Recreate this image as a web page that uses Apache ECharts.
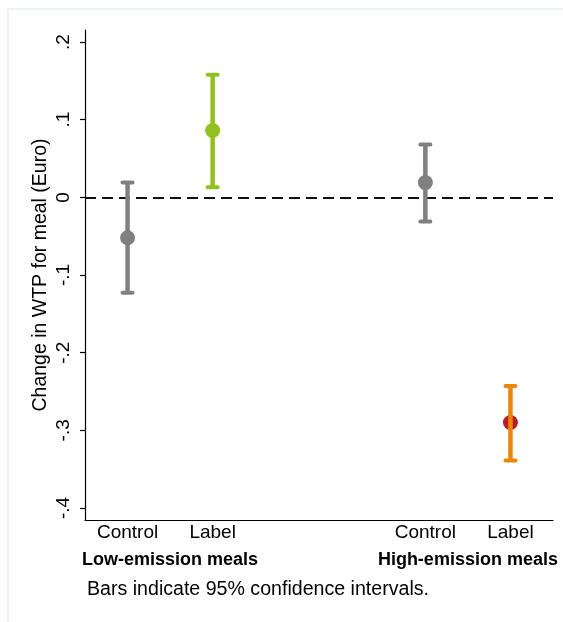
<!DOCTYPE html>
<html>
<head>
<meta charset="utf-8">
<script src="https://cdn.jsdelivr.net/npm/echarts@6/dist/echarts.min.js"></script>
<style>
  html, body { margin: 0; padding: 0; background: #fff; }
  #chart { width: 563px; height: 622px; }
</style>
</head>
<body>
<div id="chart"></div>
<script>
// x positions of the four estimates (two groups, gap between them)
const xPos = [1, 2, 4.5, 5.5];
const catLabels = ["Control", "Label", "Control", "Label"];
const groupPos = [1.5, 5];
const groupLabels = ["Low-emission meals", "High-emission meals"];

const estimate = [-0.052, 0.086, 0.019, -0.290];
const ciLow = [-0.123, 0.013, -0.031, -0.339];
const ciHigh = [0.019, 0.158, 0.068, -0.243];

const pointColors = ["#808080", "#92c01f", "#808080", "#b81d26"];
const barColors = ["#808080", "#92c01f", "#808080", "#e8870a"];

const yTicks = [-0.4, -0.3, -0.2, -0.1, 0, 0.1, 0.2];
const yTickLabels = ["-.4", "-.3", "-.2", "-.1", "0", ".1", ".2"];

const font = "'Liberation Sans', Arial, sans-serif";

const chart = echarts.init(document.getElementById("chart"));

const pointData = xPos.map((x, i) => ({
  value: [x, estimate[i]],
  itemStyle: { color: pointColors[i], opacity: 1 }
}));
const barData = xPos.map((x, i) => [x, ciLow[i], ciHigh[i], i]);

function renderBar(params, api) {
  const x = api.value(0);
  const lo = api.coord([x, api.value(1)]);
  const hi = api.coord([x, api.value(2)]);
  const color = barColors[api.value(3)];
  const half = 5;
  const style = { stroke: color, lineWidth: 4, lineCap: "round" };
  return {
    type: "group",
    children: [
      { type: "line", shape: { x1: lo[0], y1: lo[1], x2: hi[0], y2: hi[1] }, style: { stroke: color, lineWidth: 4.5 } },
      { type: "line", shape: { x1: hi[0] - half, y1: hi[1], x2: hi[0] + half, y2: hi[1] }, style },
      { type: "line", shape: { x1: lo[0] - half, y1: lo[1], x2: lo[0] + half, y2: lo[1] }, style }
    ]
  };
}

chart.setOption({
  backgroundColor: "#fff",
  animation: false,
  textStyle: { fontFamily: font },
  graphic: [
    {
      type: "rect",
      silent: true,
      z: -10,
      shape: { x: 8, y: 9, width: 700, height: 700 },
      style: { fill: "none", stroke: "#eef1f1", lineWidth: 2 }
    }
  ],
  title: {
    text: "Bars indicate 95% confidence intervals.",
    left: 87,
    top: 580,
    padding: 0,
    textStyle: { fontFamily: font, fontSize: 19.6, fontWeight: "normal", color: "#000" }
  },
  grid: { left: 85, top: 30, width: 468, height: 490 },
  xAxis: [
    {
      type: "value",
      min: 0.5,
      max: 6,
      position: "bottom",
      splitLine: { show: false },
      axisLine: { show: true, onZero: false, lineStyle: { color: "#000", width: 1.2 } },
      axisTick: { show: false },
      axisLabel: {
        customValues: xPos,
        formatter: (v) => catLabels[xPos.indexOf(v)],
        fontFamily: font,
        fontSize: 19,
        color: "#000",
        margin: 3
      }
    },
    {
      type: "value",
      min: 0.5,
      max: 6,
      position: "bottom",
      offset: 28,
      splitLine: { show: false },
      axisLine: { show: false },
      axisTick: { show: false },
      axisLabel: {
        customValues: groupPos,
        formatter: (v) => groupLabels[groupPos.indexOf(v)],
        fontFamily: font,
        fontSize: 18,
        fontWeight: "bold",
        color: "#000",
        margin: 3
      }
    }
  ],
  yAxis: {
    type: "value",
    min: -0.4155,
    max: 0.2155,
    name: "Change in WTP for meal (Euro)",
    nameLocation: "middle",
    nameRotate: 90,
    nameGap: 34,
    nameMoveOverlap: false,
    nameTextStyle: { fontFamily: font, fontSize: 19.5, color: "#000" },
    splitLine: { show: false },
    axisLine: { show: true, lineStyle: { color: "#000", width: 1.2 } },
    axisTick: {
      show: true,
      length: 5,
      customValues: yTicks,
      lineStyle: { color: "#000", width: 1.2 }
    },
    axisLabel: {
      customValues: yTicks,
      formatter: (v) => {
        const i = yTicks.findIndex((t) => Math.abs(t - v) < 1e-9);
        return i >= 0 ? yTickLabels[i] : "";
      },
      rotate: 90,
      fontFamily: font,
      fontSize: 19,
      color: "#000",
      margin: 12
    }
  },
  series: [
    {
      type: "scatter",
      xAxisIndex: 0,
      symbol: "circle",
      symbolSize: 15,
      z: 3,
      itemStyle: { opacity: 1 },
      data: pointData,
      markLine: {
        silent: true,
        symbol: "none",
        label: { show: false },
        lineStyle: { color: "#111", width: 2, type: [11, 6] },
        data: [{ yAxis: 0 }],
        z: 1
      }
    },
    {
      type: "custom",
      xAxisIndex: 0,
      renderItem: renderBar,
      z: 4,
      data: barData
    }
  ]
});
</script>
</body>
</html>
